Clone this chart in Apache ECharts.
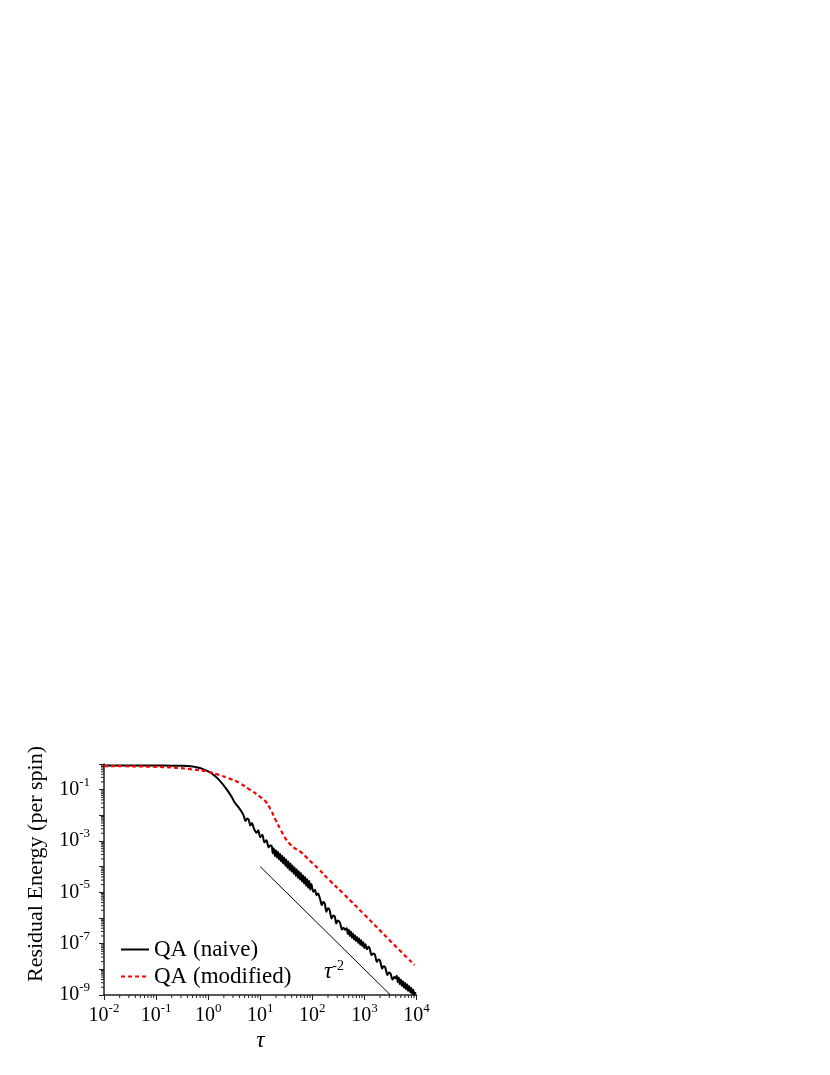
<!DOCTYPE html>
<html>
<head>
<meta charset="utf-8">
<script src="https://cdn.jsdelivr.net/npm/echarts@6/dist/echarts.min.js"></script>
<style>
  html, body { margin: 0; padding: 0; background: #fff; }
  #chart { width: 830px; height: 1075px; }
</style>
</head>
<body>
<div id="chart"></div>
<script>
  // values are log10
  const naiveLogTau = [
    -2, -1.5, -1, -0.7, -0.5, -0.3, -0.2, -0.1, 0, 0.1, 0.2, 0.3, 0.37, 0.45, 0.51, 0.58, 0.64, 0.68,
    0.72, 0.75, 0.78, 0.81, 0.84, 0.88, 0.93, 0.96, 1.0, 1.04, 1.08, 1.12, 1.16, 1.19,
    1.22, 1.24, 1.26, 1.28, 1.3, 1.32, 1.34, 1.36, 1.38, 1.4, 1.42, 1.44, 1.46, 1.48, 1.5, 1.52,
    1.54, 1.56, 1.58, 1.6, 1.62, 1.64, 1.66, 1.68, 1.7, 1.72, 1.74, 1.76, 1.78, 1.8, 1.82, 1.84,
    1.86, 1.88, 1.9, 1.92, 1.94, 1.96, 1.98,
    2.02, 2.05, 2.08, 2.11, 2.14, 2.16, 2.18, 2.21, 2.24, 2.27, 2.3, 2.33, 2.37, 2.4, 2.43, 2.46,
    2.49, 2.53, 2.57, 2.6, 2.63,
    2.66, 2.68, 2.7, 2.72, 2.74, 2.76, 2.78, 2.8, 2.82, 2.84, 2.86, 2.88, 2.9, 2.92, 2.94, 2.96,
    2.98, 3.0, 3.02, 3.05, 3.08, 3.1, 3.14, 3.17, 3.2, 3.24, 3.27, 3.3, 3.34, 3.37, 3.4, 3.44,
    3.47, 3.5, 3.54, 3.57, 3.6,
    3.62, 3.64, 3.66, 3.68, 3.7, 3.72, 3.74, 3.76, 3.78, 3.8, 3.82, 3.84, 3.86, 3.88, 3.9, 3.92,
    3.94, 3.96, 3.98,
  ]
  const naiveLogE = [
    -0.06, -0.06, -0.06, -0.065, -0.07, -0.1, -0.14, -0.2, -0.29, -0.42, -0.6, -0.84, -1.03, -1.28, -1.5, -1.68, -1.85, -2.0,
    -2.22, -2.12, -2.18, -2.4, -2.3, -2.52, -2.68, -2.58, -2.85, -2.76, -3.05, -2.97, -3.25, -3.18,
    -3.2, -3.48, -3.28, -3.58, -3.36, -3.64, -3.42, -3.72, -3.5, -3.8, -3.57, -3.88, -3.64, -3.96, -3.72, -4.04,
    -3.8, -4.12, -3.88, -4.19, -3.95, -4.27, -4.03, -4.35, -4.1, -4.43, -4.18, -4.5, -4.25, -4.58, -4.33, -4.66,
    -4.4, -4.74, -4.48, -4.82, -4.56, -4.9, -4.68,
    -4.98, -4.9, -5.11, -5.05, -5.2, -5.35, -5.5, -5.38, -5.45, -5.76, -5.62, -5.68, -6.02, -5.9, -5.94, -6.21,
    -6.1, -6.18, -6.45, -6.38, -6.46,
    -6.4, -6.62, -6.46, -6.7, -6.53, -6.77, -6.6, -6.84, -6.67, -6.9, -6.74, -6.97, -6.8, -7.04, -6.87, -7.1,
    -6.94, -7.17, -7.02, -7.22, -7.12, -7.18, -7.45, -7.38, -7.42, -7.71, -7.62, -7.66, -7.97, -7.88, -7.92, -8.22,
    -8.12, -8.16, -8.4, -8.3, -8.35,
    -8.25, -8.5, -8.32, -8.58, -8.4, -8.65, -8.46, -8.72, -8.52, -8.78, -8.58, -8.84, -8.65, -8.9, -8.72, -8.96,
    -8.8, -9.0, -8.88,
  ]
  const modLogTau = [
    -2, -1.5, -1, -0.6, -0.3, 0, 0.2, 0.4, 0.6, 0.8, 1.0, 1.1, 1.2, 1.3, 1.4, 1.5, 1.57, 1.65,
    1.78, 1.9, 2.0, 2.11, 2.33, 2.6, 3.0, 3.5, 3.96,
  ]
  const modLogE = [
    -0.08, -0.09, -0.11, -0.15, -0.21, -0.3, -0.42, -0.56, -0.74, -1.0, -1.28, -1.45, -1.78, -2.2, -2.6, -2.95, -3.12, -3.27,
    -3.43, -3.66, -3.86, -4.07, -4.53, -5.06, -5.87, -6.9, -7.83,
  ]
  // tau^-2 guide line
  const guideTau = [10, 3162]
  const guideE = [1e-4, 1e-9]
  // exponents that carry a tick label
  const xLabelExp = [-2, -1, 0, 1, 2, 3, 4]
  const yLabelExp = [-9, -7, -5, -3, -1]

  const serif = '"Liberation Serif", "DejaVu Serif", serif'
  const axisColor = "#222"

  const toPairs = (lx, ly) => lx.map((v, i) => [Math.pow(10, v), Math.pow(10, ly[i])])

  function powLabel(shown) {
    return function (v) {
      const e = Math.round(Math.log10(v))
      if (!shown.includes(e)) return ""
      return "{b|10}{s|" + e + "}"
    }
  }
  const labelRich = {
    b: { fontFamily: serif, fontSize: 20, lineHeight: 28, color: "#000" },
    s: { fontFamily: serif, fontSize: 13, lineHeight: 16, verticalAlign: "top", color: "#000" },
  }

  // log-spaced minor ticks (2..9 in each decade)
  const minorX = []
  const minorY = []
  for (let d = -2; d < 4; d++) for (let k = 2; k < 10; k++) minorX.push([k * Math.pow(10, d), 1e-9])
  for (let d = -9; d < 0; d++) for (let k = 2; k < 10; k++) minorY.push([0.01, k * Math.pow(10, d)])

  function tickItem(dx, dy) {
    return function (params, api) {
      const p = api.coord([api.value(0), api.value(1)])
      return {
        type: "line",
        shape: { x1: p[0], y1: p[1], x2: p[0] + dx, y2: p[1] + dy },
        style: { stroke: axisColor, lineWidth: 1 },
      }
    }
  }

  const option = {
    backgroundColor: "#fff",
    animation: false,
    grid: { left: 104, top: 764, width: 312.5, height: 231 },
    legend: {
      orient: "vertical",
      left: 120,
      top: 938,
      padding: 0,
      itemWidth: 28,
      itemHeight: 14,
      itemGap: 4,
      itemStyle: { opacity: 0 },
      data: ["QA (naive)", "QA (modified)"],
      textStyle: { fontFamily: serif, fontSize: 23, lineHeight: 23, color: "#000" },
    },
    xAxis: {
      type: "log",
      logBase: 10,
      min: 0.01,
      max: 10000,
      splitNumber: 6,
      name: "τ",
      nameLocation: "middle",
      nameGap: 34,
      nameTextStyle: { fontFamily: serif, fontSize: 23, fontStyle: "italic", color: "#000" },
      axisLine: { onZero: false, lineStyle: { color: axisColor, width: 1.5 } },
      axisTick: { inside: false, length: 5, lineStyle: { color: axisColor, width: 1 } },
      splitLine: { show: false },
      axisLabel: { margin: 7, formatter: powLabel(xLabelExp), rich: labelRich, showMinLabel: true, showMaxLabel: true },
    },
    yAxis: {
      type: "log",
      logBase: 10,
      min: 1e-9,
      max: 1,
      splitNumber: 9,
      axisLine: { onZero: false, lineStyle: { color: axisColor, width: 1.5 } },
      axisTick: { inside: false, length: 5, lineStyle: { color: axisColor, width: 1 } },
      splitLine: { show: false },
      axisLabel: { margin: 14, formatter: powLabel(yLabelExp), rich: labelRich },
    },
    graphic: [
      {
        type: "text",
        x: 36,
        y: 864,
        rotation: Math.PI / 2,
        style: {
          text: "Residual Energy (per spin)",
          fontFamily: serif,
          fontSize: 22,
          align: "center",
          verticalAlign: "middle",
          fill: "#000",
        },
      },
      {
        type: "text",
        x: 324,
        y: 985,
        style: {
          text: "{t|τ}{s|-2}",
          verticalAlign: "bottom",
          rich: {
            t: { fontFamily: serif, fontSize: 23, fontStyle: "italic", lineHeight: 26, color: "#000" },
            s: { fontFamily: serif, fontSize: 14, lineHeight: 16, verticalAlign: "top", color: "#000" },
          },
        },
      },
    ],
    series: [
      {
        name: "guide",
        type: "line",
        data: toPairs(guideTau.map(Math.log10), guideE.map(Math.log10)),
        symbol: "none",
        lineStyle: { color: "#000", width: 1 },
        silent: true,
      },
      {
        name: "QA (naive)",
        type: "line",
        data: toPairs(naiveLogTau, naiveLogE),
        symbol: "none",
        smooth: 0.3,
        color: "#000",
        lineStyle: { color: "#000", width: 2 },
      },
      {
        name: "QA (modified)",
        type: "line",
        data: toPairs(modLogTau, modLogE),
        symbol: "none",
        smooth: 0.4,
        color: "#ff0000",
        lineStyle: { color: "#ff0000", width: 2.2, type: [4, 3] },
      },
      {
        name: "minorX",
        type: "custom",
        data: minorX,
        renderItem: tickItem(0, 3),
        silent: true,
        clip: false,
      },
      {
        name: "minorY",
        type: "custom",
        data: minorY,
        renderItem: tickItem(-3, 0),
        silent: true,
        clip: false,
      },
    ],
  }

  const myChart = echarts.init(document.getElementById("chart"), null, { renderer: "canvas" })
  myChart.setOption(option)
</script>
</body>
</html>
